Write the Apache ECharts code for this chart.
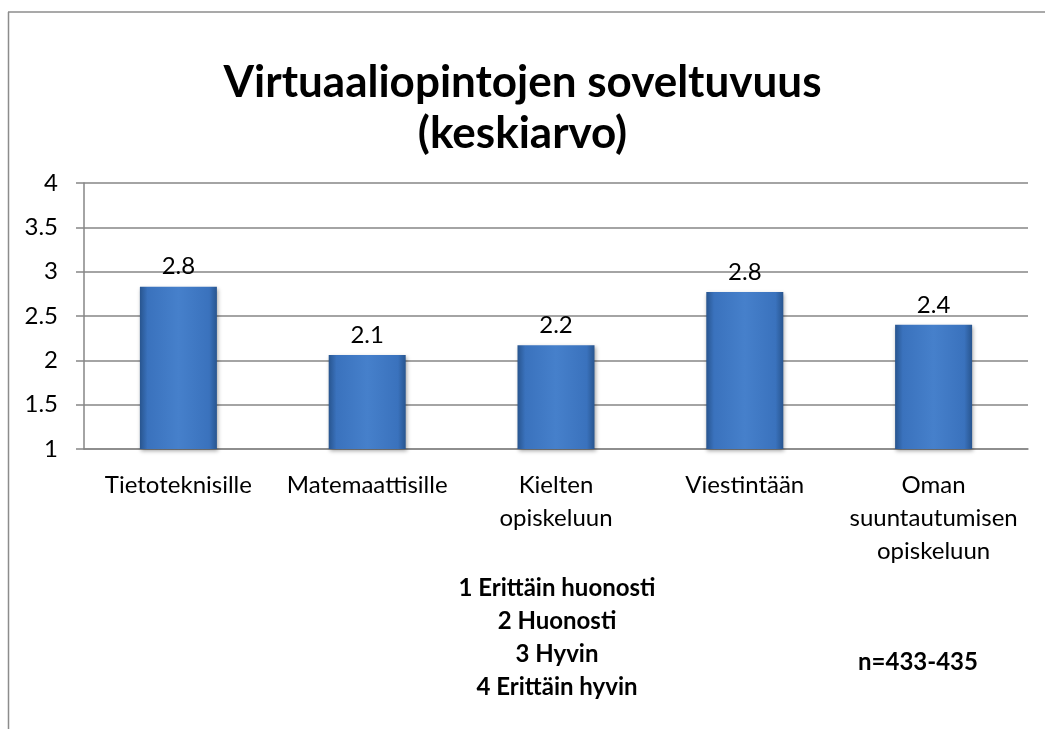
<!DOCTYPE html>
<html>
<head>
<meta charset="utf-8">
<script src="https://cdn.jsdelivr.net/npm/echarts@6/dist/echarts.min.js"></script>
<style>
  html, body { margin: 0; padding: 0; background: #fff; }
  #main { width: 1045px; height: 729px; }
</style>
</head>
<body>
<div id="main"></div>
<script>
// data
var categories = ['Tietoteknisille', 'Matemaattisille', 'Kielten\nopiskeluun', 'Viestintään', 'Oman\nsuuntautumisen\nopiskeluun'];
var averages = [2.83, 2.06, 2.17, 2.77, 2.40];
var scaleNotes = ['1 Erittäin huonosti', '2 Huonosti', '3 Hyvin', '4 Erittäin hyvin'];
var sampleNote = 'n=433-435';

var font = 'Lato';
var chart = echarts.init(document.getElementById('main'));

var option = {
    title: {
        text: 'Virtuaaliopintojen soveltuvuus\n(keskiarvo)',
        left: 'center',
        top: 52,
        textStyle: {
            fontFamily: font,
            fontWeight: 'bold',
            fontSize: 44,
            lineHeight: 51,
            color: '#000'
        }
    },
    grid: {
        left: 84,
        right: 17,
        top: 183,
        bottom: 280
    },
    xAxis: {
        type: 'category',
        data: categories,
        axisLine: { lineStyle: { color: '#868686', width: 1.5 } },
        axisTick: { length: 6, lineStyle: { color: '#868686', width: 1.5 } },
        axisLabel: {
            interval: 0,
            margin: 20,
            fontFamily: font,
            fontSize: 24,
            lineHeight: 33,
            color: '#000'
        }
    },
    yAxis: {
        type: 'value',
        min: 1,
        max: 4,
        interval: 0.5,
        axisLine: { show: true, lineStyle: { color: '#868686', width: 1.5 } },
        axisTick: { show: true, length: 8, lineStyle: { color: '#868686', width: 1.5 } },
        splitLine: { lineStyle: { color: '#868686', width: 1.5 } },
        axisLabel: {
            margin: 26,
            fontFamily: font,
            fontSize: 24,
            color: '#000'
        }
    },
    series: [{
        type: 'bar',
        data: averages,
        barWidth: 77,
        itemStyle: {
            color: new echarts.graphic.LinearGradient(0, 0, 1, 0, [
                { offset: 0, color: '#28558f' },
                { offset: 0.1, color: '#3a72bd' },
                { offset: 0.5, color: '#4680cb' },
                { offset: 0.9, color: '#3a72bd' },
                { offset: 1, color: '#28558f' }
            ]),
            shadowColor: 'rgba(0,0,0,0.35)',
            shadowBlur: 4,
            shadowOffsetX: 1,
            shadowOffsetY: 2
        },
        label: {
            show: true,
            position: 'top',
            distance: 8,
            fontFamily: font,
            fontSize: 24,
            color: '#000',
            formatter: function (p) { return p.value.toFixed(1); }
        }
    }],
    graphic: [
        {
            type: 'line',
            shape: { x1: 8, y1: 12, x2: 1045, y2: 12 },
            style: { stroke: '#8c8c8c', lineWidth: 1.5 }
        },
        {
            type: 'line',
            shape: { x1: 8.5, y1: 12, x2: 8.5, y2: 729 },
            style: { stroke: '#8c8c8c', lineWidth: 1.5 }
        },
        {
            type: 'text',
            x: 557,
            y: 572,
            style: {
                text: scaleNotes.join('\n'),
                align: 'center',
                verticalAlign: 'top',
                fontFamily: font,
                fontWeight: 'bold',
                fontSize: 24,
                lineHeight: 33,
                fill: '#000'
            }
        },
        {
            type: 'text',
            x: 918,
            y: 662,
            style: {
                text: sampleNote,
                align: 'center',
                verticalAlign: 'middle',
                fontFamily: font,
                fontWeight: 'bold',
                fontSize: 24,
                fill: '#000'
            }
        }
    ]
};

chart.setOption(option);

window.addEventListener('resize', function () {
    chart.resize();
});
</script>
</body>
</html>
